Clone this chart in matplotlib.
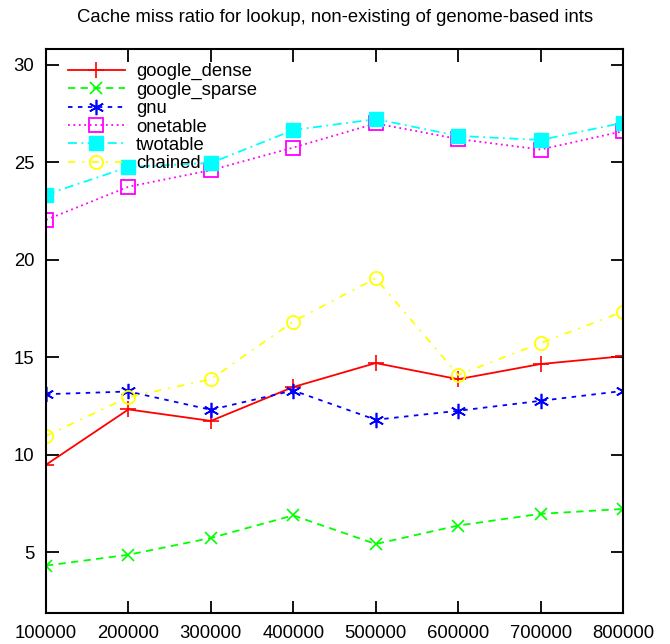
import matplotlib
matplotlib.use("Agg")
import matplotlib.pyplot as plt

plt.rcParams['font.family'] = ['Liberation Sans', 'DejaVu Sans']

sizes = [100000, 200000, 300000, 400000, 500000, 600000, 700000, 800000]
google_dense = [9.48, 12.32, 11.73, 13.47, 14.70, 13.87, 14.65, 15.05]
google_sparse = [4.30, 4.86, 5.72, 6.88, 5.41, 6.36, 6.96, 7.21]
gnu = [13.10, 13.24, 12.30, 13.29, 11.79, 12.25, 12.76, 13.27]
onetable = [22.05, 23.75, 24.60, 25.76, 27.00, 26.20, 25.66, 26.60]
twotable = [23.35, 24.76, 24.97, 26.66, 27.22, 26.36, 26.15, 27.03]
chained = [10.96, 12.95, 13.87, 16.83, 19.05, 14.09, 15.72, 17.34]
yticks = [5, 10, 15, 20, 25, 30]
title = "Cache miss ratio for lookup, non-existing of genome-based ints"

FS = 13.3

fig = plt.figure(figsize=(6.70, 6.44), dpi=100)
ax = fig.add_axes([46/670, 1-613/644, (623-46)/670, (613-49)/644])

lw = 1.3
ax.plot(sizes, google_dense, color='#ff0000', lw=lw, ls='-', marker='+', ms=11, mew=1.2, label='google_dense')
ax.plot(sizes, google_sparse, color='#00ff00', lw=lw, ls=(0, (4, 3)), marker='x', ms=9, mew=1.2, label='google_sparse')
ax.plot(sizes, gnu, color='#0000ff', lw=lw, ls=(0, (2.5, 3)), marker=(6, 2, 0), ms=11, mew=1.2, label='gnu')
ax.plot(sizes, onetable, color='#ff00ff', lw=lw, ls=(0, (1, 2)), marker='s', ms=9.5, mew=1.3, mfc='none', label='onetable')
ax.plot(sizes, twotable, color='#00ffff', lw=lw, ls=(0, (5, 2.5, 1, 2.5)), marker='s', ms=9.5, mew=1.0, label='twotable')
ax.plot(sizes, chained, color='#ffff00', lw=lw, ls=(0, (4, 4, 1, 4)), marker='o', ms=9.5, mew=1.3, mfc='none', label='chained')

ax.set_xlim(100000, 800000)
ax.set_ylim(1.87, 30.82)
ax.set_xticks(sizes)
ax.set_xticklabels([str(s) for s in sizes])
ax.set_yticks(yticks)
ax.tick_params(direction='in', length=9, width=1.3, top=True, right=True, labelsize=FS)
ax.tick_params(axis='x', pad=9)
ax.tick_params(axis='y', pad=8.5)
for sp in ax.spines.values():
    sp.set_linewidth(1.5)

fig.text(0.5, 1-18/644, title, ha='center', va='center', fontsize=FS)

leg = ax.legend(loc='upper left', bbox_to_anchor=(0.018, 0.995), frameon=False, fontsize=FS,
                handlelength=3.1, handletextpad=0.6, labelspacing=0.07, borderpad=0.0,
                borderaxespad=0.62)

fig.savefig('out.png', dpi=100)
